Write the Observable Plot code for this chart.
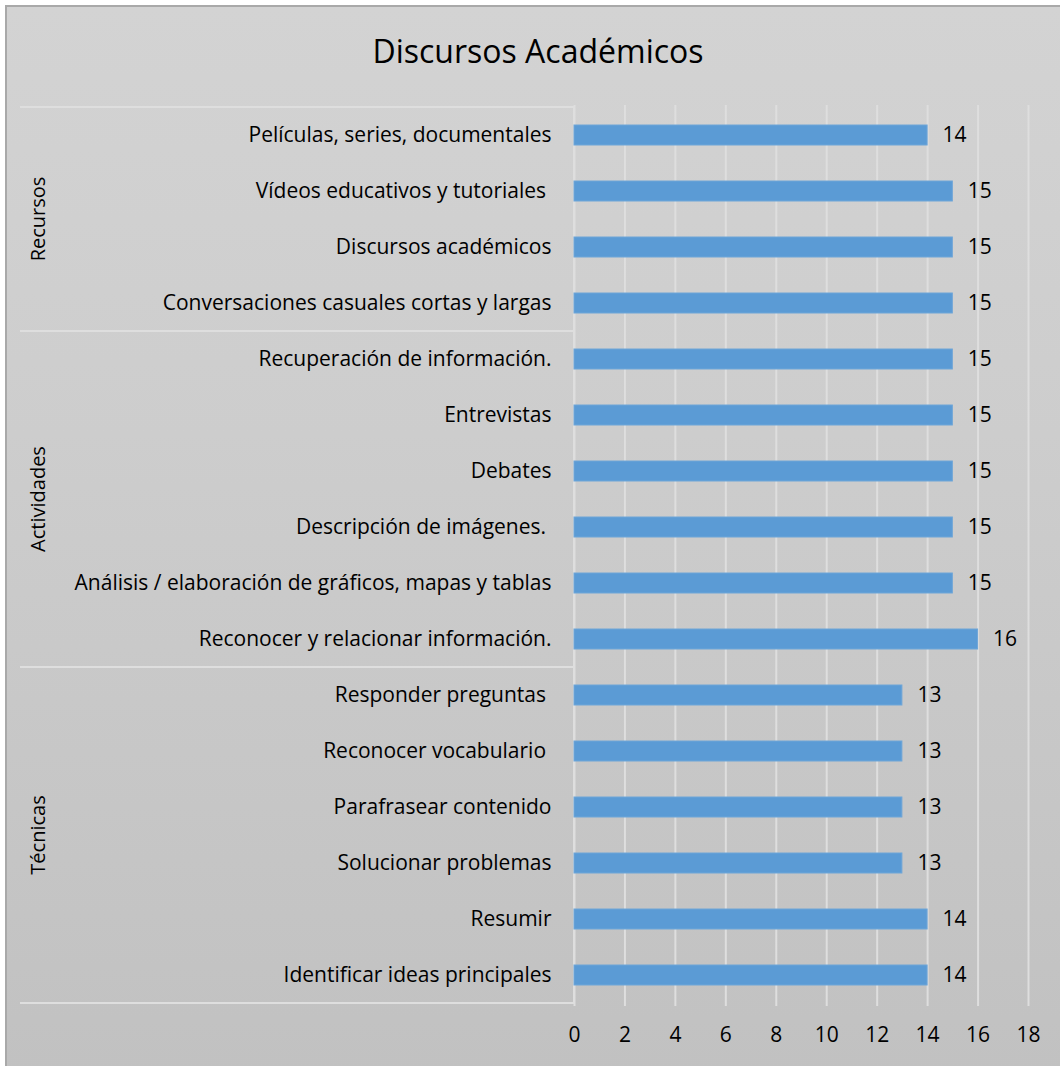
<!DOCTYPE html>
<html>
<head>
<meta charset="utf-8">
<script src="https://cdn.jsdelivr.net/npm/d3@7"></script>
<script src="https://cdn.jsdelivr.net/npm/@observablehq/plot@0.6"></script>
<style>
  html, body { margin: 0; padding: 0; background: #ffffff; }
  #chart {
    position: absolute; left: 5px; top: 5px; width: 1060px; height: 1066px;
    border-left: 2px solid #a9a9a9; border-top: 2px solid #a9a9a9;
    background: linear-gradient(to bottom, #d3d3d3 0%, #cdcdcd 40%, #c1c1c1 100%);
  }
  #plot { position: absolute; left: 0; top: 0; }
  #title {
    position: absolute; left: 0; top: 30px; width: 1076px; text-align: center;
    font-family: "Open Sans", sans-serif; font-size: 32px; color: #000; line-height: 42px;
  }
  svg text { white-space: pre; }
</style>
</head>
<body>
<div id="chart"></div>
<div id="title">Discursos Académicos</div>
<div id="plot"></div>
<script>
// Survey counts, grouped by section, listed top to bottom
const groups = ["Recursos", "Actividades", "Técnicas"];
const categories = [
  "Películas, series, documentales",
  "Vídeos educativos y tutoriales ",
  "Discursos académicos",
  "Conversaciones casuales cortas y largas",
  "Recuperación de información.",
  "Entrevistas",
  "Debates",
  "Descripción de imágenes. ",
  "Análisis / elaboración de gráficos, mapas y tablas",
  "Reconocer y relacionar información.",
  "Responder preguntas ",
  "Reconocer vocabulario ",
  "Parafrasear contenido",
  "Solucionar problemas",
  "Resumir",
  "Identificar ideas principales"
];
const categoryGroup = [
  "Recursos", "Recursos", "Recursos", "Recursos",
  "Actividades", "Actividades", "Actividades", "Actividades", "Actividades", "Actividades",
  "Técnicas", "Técnicas", "Técnicas", "Técnicas", "Técnicas", "Técnicas"
];
const values = [14, 15, 15, 15, 15, 15, 15, 15, 15, 16, 13, 13, 13, 13, 14, 14];
const xTicks = [0, 2, 4, 6, 8, 10, 12, 14, 16, 18];

const data = categories.map((c, i) => ({category: c, group: categoryGroup[i], value: values[i]}));

const font = "'Open Sans', sans-serif";

// Group separators and rotated group names drawn in the left margin
function groupDecor(index, scales, values, dim) {
  const y = scales.y;
  const step = y(categories[1]) - y(categories[0]);
  const half = (step - y.bandwidth()) / 2;
  const g = d3.create("svg:g");
  const top = y(categories[0]) - half;
  const bottom = y(categories[categories.length - 1]) + y.bandwidth() + half;
  const bounds = [top];
  groups.forEach(gr => {
    const members = categories.filter((c, i) => categoryGroup[i] === gr);
    const y0 = y(members[0]) - half;
    const y1 = y(members[members.length - 1]) + y.bandwidth() + half;
    bounds.push(y1);
    g.append("text")
      .attr("transform", `translate(45,${(y0 + y1) / 2}) rotate(-90)`)
      .attr("text-anchor", "middle")
      .attr("font-family", font)
      .attr("font-size", 20)
      .attr("fill", "#000")
      .text(gr);
  });
  bounds.forEach(b => {
    g.append("line")
      .attr("x1", 20).attr("x2", dim.marginLeft)
      .attr("y1", b).attr("y2", b)
      .attr("stroke", "#dedede").attr("stroke-width", 2);
  });
  g.append("line")
    .attr("x1", dim.marginLeft).attr("x2", dim.marginLeft)
    .attr("y1", top).attr("y2", bottom)
    .attr("stroke", "#dedede").attr("stroke-width", 2);
  return g.node();
}

const chart = Plot.plot({
  width: 1060,
  height: 1066,
  marginLeft: 574,
  marginRight: 32,
  marginTop: 105,
  marginBottom: 60,
  style: {background: "transparent", fontFamily: font, color: "#000"},
  x: {domain: [0, 18], ticks: xTicks},
  y: {domain: categories, paddingInner: 0.64, paddingOuter: 0.32},
  marks: [
    Plot.gridX(xTicks, {stroke: "#dedede", strokeOpacity: 1, strokeWidth: 2}),
    groupDecor,
    Plot.barX(data, {x: "value", y: "category", fill: "#5b9bd5", stroke: "#6fa6d8", strokeWidth: 1}),
    Plot.text(data, {x: "value", y: "category", text: d => String(d.value), textAnchor: "start", dx: 15, fontSize: 21, fill: "#000"}),
    Plot.axisY({tickSize: 0, tickPadding: 23, fontSize: 21, label: null}),
    Plot.axisX(xTicks, {tickSize: 0, tickPadding: 21, fontSize: 21, label: null})
  ]
});
document.getElementById("plot").appendChild(chart);
</script>
</body>
</html>
